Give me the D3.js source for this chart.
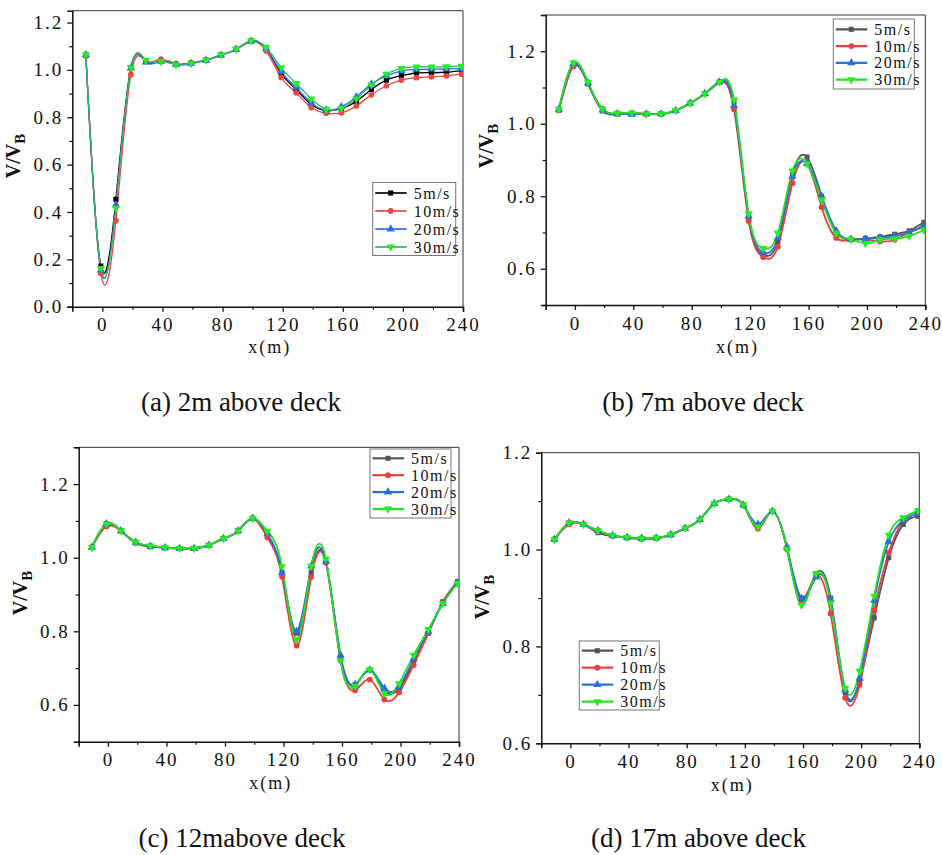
<!DOCTYPE html>
<html>
<head>
<meta charset="utf-8">
<script src="https://cdn.jsdelivr.net/npm/d3@7"></script>
<style>
  html, body { margin: 0; padding: 0; background: #fff; }
  svg { display: block; }
</style>
</head>
<body>
<svg id="fig" width="942" height="855"></svg>
<script>
// Streamwise positions of the sampling points along the deck (m)
const xPositions = [-11, -1, 9, 19, 29, 39, 49, 59, 69, 79, 89, 99, 109, 119, 129,
                    139, 149, 159, 169, 179, 189, 199, 209, 219, 229, 239];

const seriesNames = ["5m/s", "10m/s", "20m/s", "30m/s"];
const xTickLabels = [0, 40, 80, 120, 160, 200, 240];
const xMinorTicks = [-20, 20, 60, 100, 140, 180, 220];

// (a) 2 m above deck
const a5  = [1.062, 0.172, 0.454, 1.010, 1.035, 1.038, 1.024, 1.028, 1.041, 1.063, 1.087, 1.122, 1.090, 0.985, 0.917, 0.854, 0.828, 0.836, 0.867, 0.917, 0.957, 0.976, 0.987, 0.988, 0.990, 0.997];
const a10 = [1.058, 0.141, 0.363, 0.981, 1.038, 1.045, 1.026, 1.030, 1.042, 1.062, 1.086, 1.120, 1.080, 0.968, 0.903, 0.841, 0.817, 0.819, 0.848, 0.895, 0.933, 0.957, 0.967, 0.971, 0.975, 0.982];
const a20 = [1.064, 0.155, 0.430, 1.008, 1.033, 1.036, 1.022, 1.027, 1.040, 1.062, 1.087, 1.122, 1.090, 0.993, 0.926, 0.861, 0.830, 0.844, 0.886, 0.940, 0.975, 0.996, 1.002, 1.003, 1.004, 1.005];
const a30 = [1.064, 0.162, 0.415, 1.009, 1.041, 1.036, 1.022, 1.027, 1.041, 1.063, 1.088, 1.123, 1.095, 1.010, 0.943, 0.878, 0.834, 0.837, 0.878, 0.936, 0.982, 1.006, 1.013, 1.013, 1.014, 1.016];

// (b) 7 m above deck
const b5  = [1.037, 1.160, 1.110, 1.035, 1.027, 1.027, 1.027, 1.027, 1.036, 1.057, 1.083, 1.115, 1.060, 0.740, 0.638, 0.675, 0.860, 0.908, 0.800, 0.700, 0.681, 0.684, 0.688, 0.695, 0.705, 0.728];
const b10 = [1.037, 1.158, 1.112, 1.040, 1.029, 1.030, 1.028, 1.027, 1.037, 1.057, 1.083, 1.115, 1.040, 0.732, 0.632, 0.661, 0.836, 0.890, 0.770, 0.685, 0.680, 0.680, 0.675, 0.680, 0.700, 0.715];
const b20 = [1.040, 1.165, 1.112, 1.038, 1.027, 1.026, 1.027, 1.027, 1.036, 1.057, 1.083, 1.115, 1.050, 0.745, 0.645, 0.685, 0.855, 0.890, 0.800, 0.705, 0.681, 0.682, 0.685, 0.690, 0.700, 0.720];
const b30 = [1.040, 1.168, 1.115, 1.040, 1.029, 1.030, 1.027, 1.027, 1.037, 1.057, 1.083, 1.115, 1.066, 0.752, 0.656, 0.698, 0.870, 0.889, 0.790, 0.698, 0.681, 0.670, 0.680, 0.683, 0.690, 0.707];

// (c) 12 m above deck
const c5  = [1.028, 1.092, 1.073, 1.040, 1.030, 1.027, 1.025, 1.025, 1.034, 1.052, 1.073, 1.107, 1.060, 0.960, 0.795, 0.960, 0.990, 0.730, 0.655, 0.695, 0.640, 0.645, 0.715, 0.795, 0.880, 0.935];
const c10 = [1.028, 1.085, 1.073, 1.042, 1.032, 1.028, 1.025, 1.026, 1.034, 1.052, 1.073, 1.107, 1.055, 0.948, 0.761, 0.948, 0.986, 0.720, 0.640, 0.669, 0.615, 0.634, 0.708, 0.795, 0.880, 0.930];
const c20 = [1.028, 1.092, 1.073, 1.042, 1.031, 1.027, 1.025, 1.025, 1.034, 1.052, 1.073, 1.107, 1.065, 0.959, 0.800, 0.977, 0.990, 0.735, 0.655, 0.695, 0.645, 0.650, 0.725, 0.800, 0.876, 0.932];
const c30 = [1.028, 1.092, 1.073, 1.042, 1.032, 1.028, 1.025, 1.025, 1.034, 1.052, 1.073, 1.107, 1.072, 0.976, 0.778, 0.977, 0.997, 0.720, 0.651, 0.696, 0.631, 0.658, 0.735, 0.805, 0.876, 0.930];

// (d) 17 m above deck
const d5  = [1.021, 1.055, 1.052, 1.035, 1.028, 1.024, 1.022, 1.023, 1.030, 1.044, 1.062, 1.095, 1.104, 1.092, 1.048, 1.079, 1.003, 0.900, 0.950, 0.900, 0.705, 0.730, 0.859, 0.983, 1.052, 1.069];
const d10 = [1.021, 1.052, 1.052, 1.038, 1.029, 1.025, 1.023, 1.024, 1.031, 1.044, 1.062, 1.095, 1.104, 1.092, 1.043, 1.079, 1.000, 0.895, 0.945, 0.868, 0.694, 0.721, 0.874, 0.994, 1.060, 1.078];
const d20 = [1.021, 1.055, 1.052, 1.039, 1.029, 1.025, 1.023, 1.024, 1.031, 1.044, 1.062, 1.095, 1.104, 1.092, 1.052, 1.079, 1.005, 0.899, 0.943, 0.897, 0.710, 0.734, 0.895, 1.016, 1.060, 1.075];
const d30 = [1.021, 1.055, 1.052, 1.039, 1.029, 1.025, 1.023, 1.024, 1.031, 1.044, 1.062, 1.095, 1.104, 1.092, 1.047, 1.079, 1.001, 0.885, 0.950, 0.890, 0.714, 0.749, 0.904, 1.030, 1.066, 1.081];

const yTicksA = [0.0, 0.2, 0.4, 0.6, 0.8, 1.0, 1.2];
const yTicksBCD = [0.6, 0.8, 1.0, 1.2];

const captions = ["(a) 2m above deck", "(b) 7m above deck", "(c) 12mabove deck", "(d) 17m above deck"];

const SERIF = "'Liberation Serif', 'Times New Roman', serif";

// Layout of the four panels
const panels = [
  { box: [72.3, 10.7, 463, 306.7], yDom: [0, 1.25], yTicks: yTicksA, yMinorStep: 0.1,
    series: [a5, a10, a20, a30],
    lineColors: ["#000000", "#f04545", "#2d6fe0", "#2fb865"],
    markColors: ["#000000", "#f04545", "#2d6fe0", "#22ee22"], lw: 1.3,
    legend: { x: 372.7, y: 182.5, w: 83, h: 73, row0: 10.5, dy: 18 },
    yLabel: { x: 20, y: 156 }, xLabelY: 353, caption: { x: 241, y: 411 } },
  { box: [545.7, 15, 925.3, 305], yDom: [0.5, 1.3], yTicks: yTicksBCD, yMinorStep: 0.1,
    series: [b5, b10, b20, b30],
    lineColors: ["#555555", "#e84040", "#2a6fdc", "#22e022"],
    markColors: ["#555555", "#e84040", "#2a6fdc", "#22ee22"], lw: 1.8,
    legend: { x: 833.3, y: 19, w: 81, h: 70, row0: 10.3, dy: 16.8 },
    yLabel: { x: 493, y: 146 }, xLabelY: 353, caption: { x: 703, y: 411 } },
  { box: [78.7, 447.3, 459, 741.7], yDom: [0.5, 1.3], yTicks: yTicksBCD, yMinorStep: 0.1,
    series: [c5, c10, c20, c30],
    lineColors: ["#555555", "#e84040", "#2a6fdc", "#22e022"],
    markColors: ["#555555", "#e84040", "#2a6fdc", "#22ee22"], lw: 1.8,
    legend: { x: 370, y: 449, w: 81, h: 69, row0: 9.3, dy: 16.9 },
    yLabel: { x: 27, y: 593 }, xLabelY: 789, caption: { x: 242, y: 847 } },
  { box: [541.3, 452.7, 919.3, 743.3], yDom: [0.6, 1.2], yTicks: yTicksBCD, yMinorStep: 0.1,
    series: [d5, d10, d20, d30],
    lineColors: ["#555555", "#e84040", "#2a6fdc", "#22e022"],
    markColors: ["#555555", "#e84040", "#2a6fdc", "#22ee22"], lw: 1.8,
    legend: { x: 579.3, y: 641, w: 80, h: 69, row0: 9.7, dy: 17 },
    yLabel: { x: 489, y: 597 }, xLabelY: 791, caption: { x: 698.5, y: 847 } }
];

const symbolTypes = [d3.symbolSquare, d3.symbolCircle, d3.symbolTriangle, d3.symbolTriangle];
const symbolRotate = [0, 0, 0, 180];
const symbolSizes = [26, 26, 30, 30];

const svg = d3.select("#fig");

function styleTickText(sel) {
  sel.attr("font-size", null).attr("font-family", null)
    .style("font-family", SERIF).style("font-size", "19px")
    .style("letter-spacing", "2px").attr("fill", "#111");
}

panels.forEach((p, pi) => {
  const [L, T, R, B] = p.box;
  const x = d3.scaleLinear().domain([-20, 240]).range([L, R]);
  const y = d3.scaleLinear().domain(p.yDom).range([B, T]);
  const g = svg.append("g");

  // frame: thin top and right edges
  g.append("line").attr("x1", L).attr("x2", R).attr("y1", T).attr("y2", T)
    .attr("stroke", "#333").attr("stroke-width", 1);
  g.append("line").attr("x1", R).attr("x2", R).attr("y1", T).attr("y2", B)
    .attr("stroke", "#333").attr("stroke-width", 1);

  // x axis
  const xAxis = d3.axisBottom(x).tickValues(xTickLabels).tickSize(5).tickPadding(6)
    .tickFormat(d3.format("d"));
  const gx = g.append("g").attr("transform", `translate(0,${B})`).call(xAxis);
  gx.attr("font-family", null).attr("font-size", null);
  gx.select(".domain").attr("stroke", "#111").attr("stroke-width", 1.5);
  gx.selectAll(".tick line").attr("stroke", "#111").attr("stroke-width", 1.3);
  gx.selectAll(".tick text").call(styleTickText).attr("dy", "0.72em");
  const xMinor = d3.axisBottom(x).tickValues(xMinorTicks).tickSize(3).tickFormat("");
  const gxm = g.append("g").attr("transform", `translate(0,${B})`).call(xMinor);
  gxm.select(".domain").remove();
  gxm.selectAll(".tick line").attr("stroke", "#111").attr("stroke-width", 1.2);

  // y axis
  const yAxis = d3.axisLeft(y).tickValues(p.yTicks).tickSize(5).tickPadding(4)
    .tickFormat(d3.format(".1f"));
  const gy = g.append("g").attr("transform", `translate(${L},0)`).call(yAxis);
  gy.attr("font-family", null).attr("font-size", null);
  gy.select(".domain").attr("stroke", "#111").attr("stroke-width", 1.5);
  gy.selectAll(".tick line").attr("stroke", "#111").attr("stroke-width", 1.3);
  gy.selectAll(".tick text").call(styleTickText);
  const minor = d3.range(p.yDom[0], p.yDom[1] + 1e-9, p.yMinorStep)
    .filter(v => !p.yTicks.some(t => Math.abs(t - v) < 1e-6));
  const yMinor = d3.axisLeft(y).tickValues(minor).tickSize(3).tickFormat("");
  const gym = g.append("g").attr("transform", `translate(${L},0)`).call(yMinor);
  gym.select(".domain").remove();
  gym.selectAll(".tick line").attr("stroke", "#111").attr("stroke-width", 1.2);

  // axis titles
  g.append("text")
    .attr("x", (L + R) / 2 + 2).attr("y", p.xLabelY).attr("text-anchor", "middle")
    .style("font-family", SERIF).style("font-size", "18px").style("letter-spacing", "2px")
    .attr("fill", "#111")
    .text("x(m)");
  const yl = g.append("text")
    .attr("transform", `translate(${p.yLabel.x},${p.yLabel.y}) rotate(-90)`)
    .attr("text-anchor", "middle")
    .style("font-family", SERIF)
    .style("font-weight", "bold").style("font-size", "20px").attr("fill", "#111");
  yl.append("tspan").text("V/V");
  yl.append("tspan").attr("dy", "0.3em").style("font-size", "15px").text("B");

  // curves
  const line = d3.line().x((d, i) => x(xPositions[i])).y(d => y(d)).curve(d3.curveNatural);
  const clipId = "clip" + pi;
  g.append("clipPath").attr("id", clipId).append("rect")
    .attr("x", L).attr("y", T).attr("width", R - L).attr("height", B - T);
  const plot = g.append("g").attr("clip-path", `url(#${clipId})`);
  p.series.forEach((vals, si) => {
    plot.append("path").attr("d", line(vals)).attr("fill", "none")
      .attr("stroke", p.lineColors[si]).attr("stroke-width", p.lw);
  });
  p.series.forEach((vals, si) => {
    const sym = d3.symbol().type(symbolTypes[si]).size(symbolSizes[si]);
    plot.selectAll(null).data(vals).enter().append("path")
      .attr("d", sym)
      .attr("transform", (d, i) => `translate(${x(xPositions[i])},${y(d)}) rotate(${symbolRotate[si]})`)
      .attr("fill", p.markColors[si]);
  });

  // legend
  const lg = p.legend;
  const leg = g.append("g").attr("transform", `translate(${lg.x},${lg.y})`);
  leg.append("rect").attr("width", lg.w).attr("height", lg.h)
    .attr("fill", "#fff").attr("stroke", "#777").attr("stroke-width", 1);
  seriesNames.forEach((name, si) => {
    const cy = lg.row0 + si * lg.dy;
    leg.append("line").attr("x1", 2.5).attr("x2", 34).attr("y1", cy).attr("y2", cy)
      .attr("stroke", p.lineColors[si]).attr("stroke-width", p.lw + 0.4);
    leg.append("path").attr("d", d3.symbol().type(symbolTypes[si]).size(symbolSizes[si])())
      .attr("transform", `translate(18,${cy}) rotate(${symbolRotate[si]})`)
      .attr("fill", p.markColors[si]);
    leg.append("text").attr("x", 41).attr("y", cy + 5.5)
      .style("font-family", SERIF).style("font-size", "16px").style("letter-spacing", "1.5px")
      .attr("fill", "#111").text(name);
  });

  // caption
  svg.append("text").attr("x", p.caption.x).attr("y", p.caption.y)
    .attr("text-anchor", "middle")
    .style("font-family", SERIF).style("font-size", "27px").attr("fill", "#111")
    .text(captions[pi]);
});
</script>
</body>
</html>
